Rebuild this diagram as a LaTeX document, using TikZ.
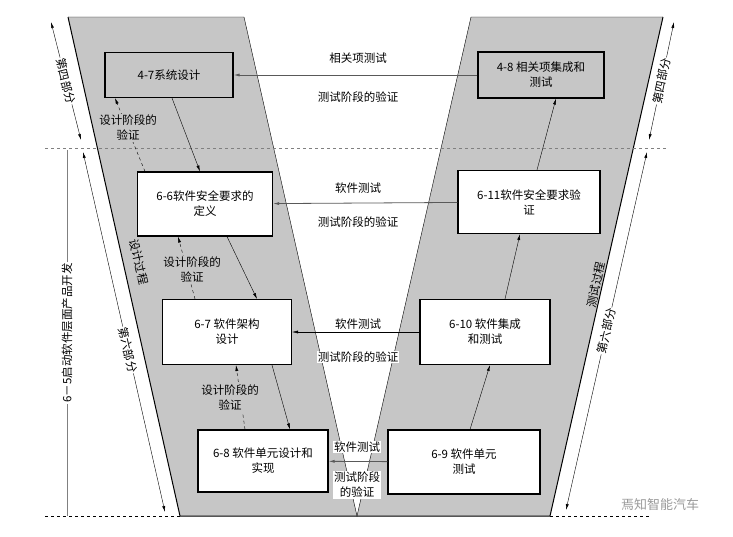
\documentclass[tikz,border=0pt]{standalone}
\usepackage{fontspec}
\newfontfamily\cjk{Noto Sans CJK SC}
\usetikzlibrary{arrows.meta}
\tikzset{
  box/.style = {draw, line width=1.1pt, fill=white, align=center, inner sep=2pt},
  gbox/.style = {box, fill=gray!45},
  lbl/.style = {align=center},
  flow/.style = {-{Latex[length=6pt,width=3pt]}, thin},
  back/.style = {flow, dashed},
  dim/.style = {{Latex[length=6pt,width=3pt]}-{Latex[length=6pt,width=3pt]}, thin}
}
\begin{document}
\begin{tikzpicture}[x=1pt, y=-1pt, font=\cjk\fontsize{11.5}{15}\selectfont]
      \useasboundingbox (0, 0) rectangle (733, 536);

      % V shape
      \fill[gray!45] (68, 17) -- (244, 17) -- (357, 516) -- (180, 516) -- cycle;
      \fill[gray!45] (471, 17) -- (663, 17) -- (550, 516) -- (357, 516) -- cycle;
      \draw[line width=1pt] (68, 17) -- (180, 516) -- (550, 516) -- (663, 17);
      \draw (68, 17) -- (244, 17) -- (357, 516) -- (471, 17) -- (663, 17);
      \draw[dashed, gray, thick] (45, 148) -- (668, 148);
      \draw[dashed] (45, 516) -- (180, 516);
      \draw[dashed] (550, 516) -- (650, 516);

      \node[gbox, minimum width=128pt, minimum height=45pt] (1) at (169, 75) {4-7系统设计};
      \node[gbox, minimum width=126pt, minimum height=46pt] (2) at (541, 75) {4-8 相关项集成和\\测试};
      \node[box, minimum width=135pt, minimum height=64pt] (3) at (205, 204) {6-6软件安全要求的\\定义};
      \node[box, minimum width=142pt, minimum height=63pt] (4) at (529, 202) {6-11软件安全要求验\\证};
      \node[box, minimum width=129pt, minimum height=65pt] (5) at (227, 332) {6-7 软件架构\\设计};
      \node[box, minimum width=130pt, minimum height=65pt] (6) at (485, 332) {6-10 软件集成\\和测试};
      \node[box, minimum width=130pt, minimum height=62pt] (7) at (263, 461) {6-8 软件单元设计和\\实现};
      \node[box, minimum width=152pt, minimum height=64pt] (8) at (464, 462) {6-9 软件单元\\测试};

      \draw[flow, gray!70!black, thick] (2) -- (1);
      \draw[flow, gray!70!black, thick] (4) -- (3);
      \draw[flow] (6) -- (5);
      \draw[flow, gray!70!black, thick] (8) -- (7);

      \node[lbl] (9) at (358, 58) {相关项测试};
      \node[lbl] (10) at (358, 97) {测试阶段的验证};
      \node[lbl] (11) at (358, 188) {软件测试};
      \node[lbl] (12) at (358, 222) {测试阶段的验证};
      \node[lbl] (13) at (358, 324) {软件测试};
      \node[lbl, fill=white, inner sep=1pt] (14) at (358, 357) {测试阶段的验证};
      \node[lbl, fill=white, inner sep=1pt] (15) at (357, 447) {软件测试};
      \node[lbl, fill=white, inner sep=1pt] (16) at (357, 485) {测试阶段\\的验证};

      \draw[flow] ([xshift=3pt]1.south) -- ([xshift=-5pt]3.north);
      \draw[flow] ([xshift=22pt]3.south) -- ([xshift=30pt]5.north);
      \draw[flow] ([xshift=45pt]5.south) -- ([xshift=27pt]7.north);
      \draw[back] ([xshift=-60pt]3.north) -- ([xshift=-54pt]1.south);
      \draw[back] ([xshift=-32pt]5.north) -- ([xshift=-27pt]3.south);
      \draw[back] ([xshift=-18pt]7.north) -- ([xshift=9pt]5.south);
      \draw[flow] ([xshift=6pt]8.north) -- ([xshift=5pt]6.south);
      \draw[flow] ([xshift=20pt]6.north) -- ([xshift=-9pt]4.south);
      \draw[flow] ([xshift=8pt]4.north) -- ([xshift=15pt]2.south);

      \node[lbl, fill=gray!45, inner sep=1pt] (17) at (128, 128) {设计阶段的\\验证};
      \node[lbl, fill=gray!45, inner sep=1pt] (18) at (192, 270) {设计阶段的\\验证};
      \node[lbl, fill=gray!45, inner sep=1pt] (19) at (230, 398) {设计阶段的\\验证};

      % side marks
      \coordinate (20) at (51, 22);
      \coordinate (21) at (81, 140);
      \coordinate (22) at (83, 152);
      \coordinate (23) at (165, 512);
      \coordinate (24) at (674, 22);
      \coordinate (25) at (649, 140);
      \coordinate (26) at (647, 152);
      \coordinate (27) at (566, 510);
      \draw[dim] (20) -- node[fill=white, rotate=-76, inner sep=1pt] {第四部分} (21);
      \draw[dim] (22) -- node[fill=white, rotate=-77, inner sep=1pt, pos=0.55] {第六部分} (23);
      \draw[dim] (24) -- node[fill=white, rotate=78, inner sep=1pt] {第四部分} (25);
      \draw[dim] (26) -- node[fill=white, rotate=77, inner sep=1pt, pos=0.5] {第六部分} (27);
      \coordinate (28) at (67, 150);
      \coordinate (29) at (67, 516);
      \draw[gray] (28) -- node[fill=white, text=black, rotate=90, inner sep=1pt] {6－5启动软件层面产品开发} (29);
      \node[rotate=-77] (30) at (139, 262) {设计过程};
      \node[rotate=77] (31) at (596, 285) {测试过程};
      \node[gray!80, font=\cjk\fontsize{13}{15}\selectfont] (32) at (660, 505) {焉知智能汽车};
\end{tikzpicture}
\end{document}
